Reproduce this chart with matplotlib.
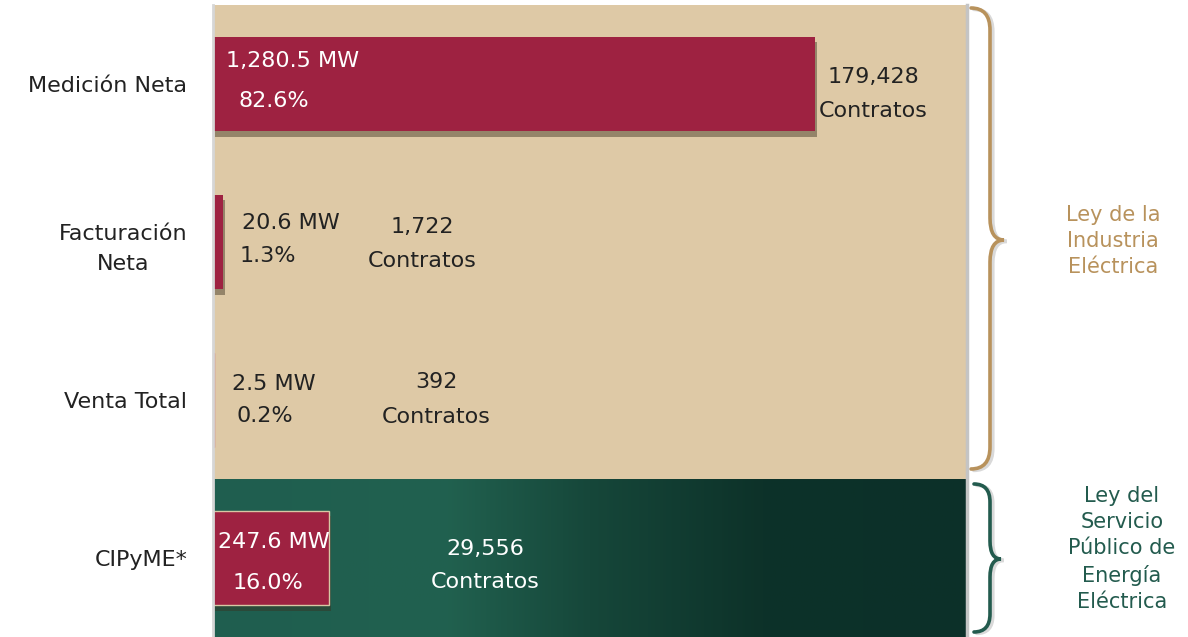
import numpy as np
import matplotlib
matplotlib.use("Agg")
import matplotlib.pyplot as plt
import matplotlib.patheffects as pe
from matplotlib.colors import LinearSegmentedColormap
from matplotlib.path import Path
from matplotlib.patches import PathPatch

plt.rcParams['font.family'] = ['DejaVu Sans']

# data
categorias = ['Medición Neta', 'Facturación\nNeta', 'Venta Total', 'CIPyME*']
capacidad_mw = [1280.5, 20.6, 2.5, 247.6]
porcentaje = [82.6, 1.3, 0.2, 16.0]
contratos = [179428, 1722, 392, 29556]
ley_lie = 'Ley de la\nIndustria\nEléctrica'
ley_lspee = 'Ley del\nServicio\nPúblico de\nEnergía\nEléctrica'

CRIMSON = '#9e2241'
BEIGE = '#dec9a6'
GOLD = '#b8925c'
GREEN = '#235b4e'
DARK = '#222222'

W, H = 1188, 637
fig = plt.figure(figsize=(W / 100, H / 100), dpi=100)
ax = fig.add_axes([213 / W, 0, (966 - 213) / W, (H - 5) / H])

xmax = 1602
n = len(categorias)
y = np.arange(n)
ax.set_xlim(0, xmax)
ax.set_ylim(n - 0.5, -0.5)

# backgrounds: beige for LIE rows, green gradient for LSPEE row
ax.axhspan(-0.5, n - 1.5, color=BEIGE, zorder=0, lw=0)
cmap = LinearSegmentedColormap.from_list('verde', [
    (0.0, '#1f5e4f'), (0.31, '#21614f'), (0.5, '#16473a'), (0.73, '#0d3229'), (1.0, '#0c3029')])
grad = np.linspace(0, 1, 512).reshape(1, -1)
ax.imshow(grad, cmap=cmap, aspect='auto', extent=[0, xmax, n - 0.5, n - 1.5], zorder=0.5)

# bars with drop shadow
shadow = [pe.SimplePatchShadow(offset=(1.5, -4), shadow_rgbFace='#3a3020', alpha=0.45), pe.Normal()]
bars = ax.barh(y, capacidad_mw, height=0.6, color=CRIMSON, zorder=2)
for i, b in enumerate(bars):
    if capacidad_mw[i] > 10:
        b.set_path_effects(shadow)
    else:
        b.set_color('#c9778b')
bars[-1].set_edgecolor('#d8c7a4')
bars[-1].set_linewidth(1.0)

# value labels (offsets in pixels from the start of each row)
FS = 16
TXT = dict(fontsize=FS)
mw_off = [(13, 17, 'left'), (29, 13, 'left'), (19, 10, 'left'), (61, 10, 'center')]
pct_off = [(26, -23, 'left'), (27, -20, 'left'), (24, -22, 'left'), (55, -31, 'center')]
cnt_off = [(660, 1, -33), (209, 9, -25), (223, 12, -23), (272, 3, -30)]
mw_col = ['white', DARK, DARK, 'white']
cnt_col = [DARK, DARK, DARK, 'white']

for i in range(n):
    dx, dy, ha = mw_off[i]
    ax.annotate(f'{capacidad_mw[i]:,.1f} MW', xy=(0, y[i]), xytext=(dx, dy),
                textcoords='offset pixels', ha=ha, va='baseline',
                color=mw_col[i], zorder=5, **TXT)
    dx, dy, ha = pct_off[i]
    ax.annotate(f'{porcentaje[i]:.1f}%', xy=(0, y[i]), xytext=(dx, dy),
                textcoords='offset pixels', ha=ha, va='baseline',
                color=mw_col[i], zorder=5, **TXT)
    dx, dy1, dy2 = cnt_off[i]
    ax.annotate(f'{contratos[i]:,}', xy=(0, y[i]), xytext=(dx, dy1),
                textcoords='offset pixels', ha='center', va='baseline',
                color=cnt_col[i], zorder=5, **TXT)
    ax.annotate('Contratos', xy=(0, y[i]), xytext=(dx, dy2),
                textcoords='offset pixels', ha='center', va='baseline',
                color=cnt_col[i], zorder=5, **TXT)

# axes styling
ax.set_yticks(y)
ax.set_yticklabels(categorias, color=DARK, multialignment='center',
                   linespacing=1.65, **TXT)
ax.tick_params(axis='y', length=0, pad=18.5)
ax.set_xticks([])
for s in ['top', 'right', 'bottom']:
    ax.spines[s].set_visible(False)
ax.spines['left'].set_color('#d6d6d6')
ax.spines['left'].set_linewidth(2)

# gray edge on the right side of the panel
fig.add_artist(plt.Line2D([967 / W, 967 / W], [0, (H - 5) / H], color='#c4c4c4',
                          lw=2.5, transform=fig.transFigure))


def brace(x_end, x_v, x_tip, y0, y1, ymid, color, r=22):
    # pixel coords with origin at top-left
    def P(px, py):
        return (px, H - py)
    verts = [P(x_end, y0), P(x_v, y0), P(x_v, y0 + r),
             P(x_v, ymid - r), P(x_v, ymid), P(x_tip, ymid),
             P(x_v, ymid), P(x_v, ymid + r),
             P(x_v, y1 - r), P(x_v, y1), P(x_end, y1)]
    codes = [Path.MOVETO, Path.CURVE3, Path.CURVE3,
             Path.LINETO, Path.CURVE3, Path.CURVE3,
             Path.CURVE3, Path.CURVE3,
             Path.LINETO, Path.CURVE3, Path.CURVE3]
    patch = PathPatch(Path(verts, codes), facecolor='none', edgecolor=color, lw=2.6,
                      transform=None, capstyle='round',
                      path_effects=[pe.SimpleLineShadow(offset=(2, -1), alpha=0.15), pe.Normal()])
    fig.add_artist(patch)


brace(971, 990, 1004, 8, 469, 240, GOLD)
brace(974, 990, 1001, 484, 632, 559, GREEN, r=18)

fig.text(1113 / W, 1 - 241 / H, ley_lie, color=GOLD, fontsize=15, ha='center',
         va='center', linespacing=1.4)
fig.text(1122 / W, 1 - 549 / H, ley_lspee, color=GREEN, fontsize=15, ha='center',
         va='center', linespacing=1.4)

fig.savefig('out.png', dpi=100, facecolor='white')
